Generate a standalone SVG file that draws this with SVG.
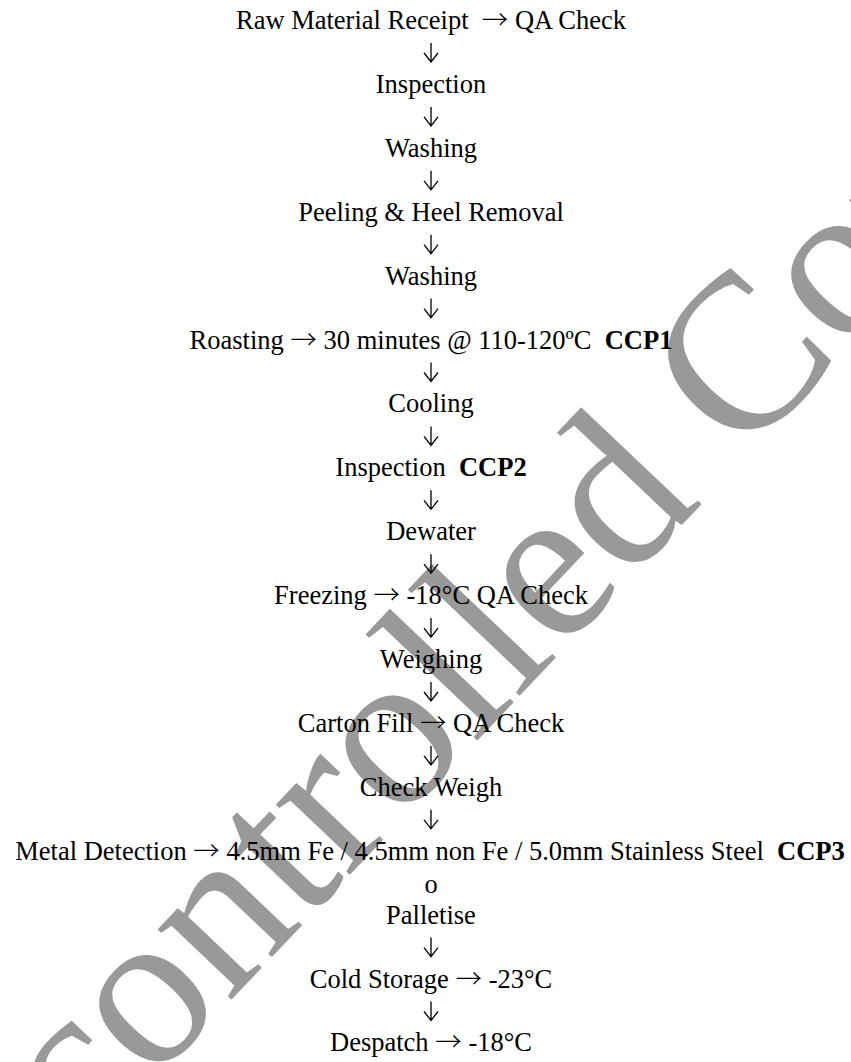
<svg xmlns="http://www.w3.org/2000/svg" width="851" height="1062" viewBox="0 0 851 1062">
<style>
text{font-family:"Liberation Serif","Times New Roman",serif;font-size:26.5px;fill:#000;white-space:pre}
.c{text-anchor:middle}
.b{font-weight:bold}
.a{font-family:"Noto Sans CJK SC","Noto Sans CJK JP",sans-serif;font-weight:300}
.wm{font-family:"Liberation Serif","Times New Roman",serif;font-size:222px;fill:#999999}
.arr{fill:none;stroke:#000;stroke-width:1.3}
</style>
<defs>
<path id="down" class="arr" d="M0,0 V19 M-7,10 L0,19 L7,10"/>
</defs>
<rect width="851" height="1062" fill="#fff"/>
<g id="watermark" transform="translate(-103,1352) rotate(-46.5)"><text class="wm" x="0" y="0">Uncontrolled Copy</text></g>
<g id="nodes">
<g id="n0"><text class="c" x="431" y="29">Raw Material Receipt  <tspan class="a">→</tspan> QA Check</text></g>
<g id="n1"><text class="c" x="431" y="92.9">Inspection</text></g>
<g id="n2"><text class="c" x="431" y="156.8">Washing</text></g>
<g id="n3"><text class="c" x="431" y="220.7">Peeling &amp; Heel Removal</text></g>
<g id="n4"><text class="c" x="431" y="284.6">Washing</text></g>
<g id="n5"><text class="c" x="431" y="348.5">Roasting <tspan class="a">→</tspan> 30 minutes @ 110-120ºC  <tspan class="b">CCP1</tspan></text></g>
<g id="n6"><text class="c" x="431" y="412.4">Cooling</text></g>
<g id="n7"><text class="c" x="431" y="476.3">Inspection  <tspan class="b">CCP2</tspan></text></g>
<g id="n8"><text class="c" x="431" y="540.2">Dewater</text></g>
<g id="n9"><text class="c" x="431" y="604.1">Freezing <tspan class="a">→</tspan> -18°C QA Check</text></g>
<g id="n10"><text class="c" x="431" y="668">Weighing</text></g>
<g id="n11"><text class="c" x="431" y="731.9">Carton Fill <tspan class="a">→</tspan> QA Check</text></g>
<g id="n12"><text class="c" x="431" y="795.8">Check Weigh</text></g>
<g id="n13"><text class="c" x="430" y="859.7">Metal Detection <tspan class="a">→</tspan> 4.5mm Fe / 4.5mm non Fe / 5.0mm Stainless Steel  <tspan class="b">CCP3</tspan></text></g>
<g id="n14"><text class="c" x="431" y="893">o</text></g>
<g id="n15"><text class="c" x="431" y="923.6">Palletise</text></g>
<g id="n16"><text class="c" x="431" y="987.5">Cold Storage <tspan class="a">→</tspan> -23°C</text></g>
<g id="n17"><text class="c" x="431" y="1051.4">Despatch <tspan class="a">→</tspan> -18°C</text></g>
</g>
<g id="connectors">
<use href="#down" x="431" y="43"/>
<use href="#down" x="431" y="106.9"/>
<use href="#down" x="431" y="170.8"/>
<use href="#down" x="431" y="234.7"/>
<use href="#down" x="431" y="298.6"/>
<use href="#down" x="431" y="362.5"/>
<use href="#down" x="431" y="426.4"/>
<use href="#down" x="431" y="490.3"/>
<use href="#down" x="431" y="554.2"/>
<use href="#down" x="431" y="618.1"/>
<use href="#down" x="431" y="682"/>
<use href="#down" x="431" y="745.9"/>
<use href="#down" x="431" y="809.8"/>
<use href="#down" x="431" y="937.6"/>
<use href="#down" x="431" y="1001.5"/>
</g>
</svg>
